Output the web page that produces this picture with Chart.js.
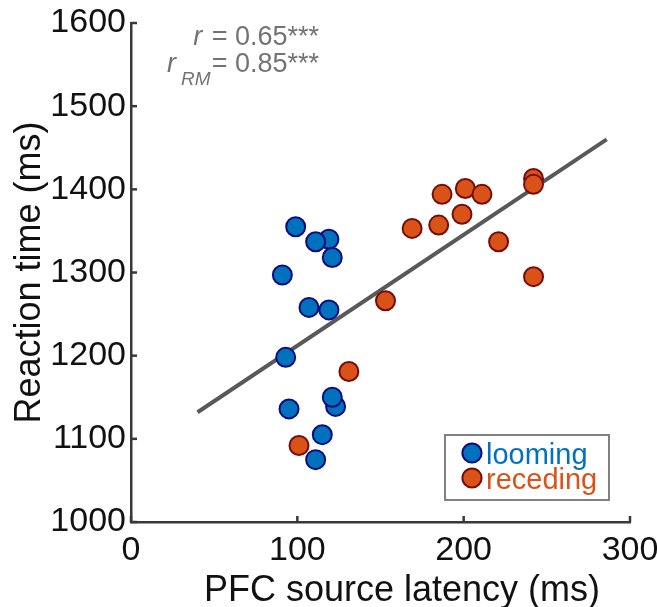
<!DOCTYPE html>
<html>
<head>
<meta charset="utf-8">
<script src="https://cdn.jsdelivr.net/npm/chart.js@4.4.0/dist/chart.umd.min.js"></script>
<style>
  html, body { margin: 0; padding: 0; background: #fff; }
  #wrap { width: 657px; height: 607px; }
</style>
</head>
<body>
<div id="wrap"><canvas id="chart" width="657" height="607"></canvas></div>
<script>
// ---- data ----
const loomingX = [99, 119, 111, 121, 91, 107, 119, 93, 123, 121, 95, 115, 111];
const loomingY = [1355, 1340, 1337, 1318, 1297, 1258, 1255, 1198, 1139, 1150, 1136, 1105, 1075];
const recedingX = [242, 242, 201, 211, 187, 199, 185, 169, 221, 242, 153, 131, 101];
const recedingY = [1413, 1406, 1401, 1394, 1394, 1370, 1357, 1353, 1337, 1295, 1266, 1181, 1092];
const fitX = [40, 286];
const fitY = [1132, 1460];
const xTicks = [0, 100, 200, 300];
const yTicks = [1000, 1100, 1200, 1300, 1400, 1500, 1600];
const seriesNames = ['looming', 'receding'];
const statLines = [['r', '', ' = 0.65***'], ['r', 'RM', '= 0.85***']];
const xTitle = 'PFC source latency (ms)';
const yTitle = 'Reaction time (ms)';

const FONT = '"Liberation Sans", Arial, sans-serif';
const axisColor = '#383838';
const blue = '#0072bd', blueEdge = '#0c0c7c';
const orange = '#d95319', orangeEdge = '#760d0d';

const toPts = (xs, ys) => xs.map((x, i) => ({ x, y: ys[i] }));

// inward tick marks, x title, stats text and the boxed legend
const extras = {
  id: 'extras',
  afterDraw(chart) {
    const ctx = chart.ctx;
    const xs = chart.scales.x, ys = chart.scales.y;
    ctx.save();
    ctx.strokeStyle = axisColor;
    ctx.lineWidth = 2.5;
    xTicks.forEach(v => {
      const px = xs.getPixelForValue(v);
      ctx.beginPath(); ctx.moveTo(px, ys.bottom); ctx.lineTo(px, ys.bottom - 6); ctx.stroke();
    });
    yTicks.forEach(v => {
      const py = ys.getPixelForValue(v);
      ctx.beginPath(); ctx.moveTo(xs.left, py); ctx.lineTo(xs.left + 6, py); ctx.stroke();
    });

    // x axis title (sits a little right of centre in the original)
    ctx.fillStyle = '#111';
    ctx.font = '36px ' + FONT;
    ctx.textAlign = 'center';
    ctx.textBaseline = 'alphabetic';
    ctx.fillText(xTitle, 402, 601);

    // r and r_RM
    ctx.fillStyle = '#737373';
    const rightEdge = 319;
    const bases = [45, 72];
    statLines.forEach((ln, i) => {
      ctx.font = '27px ' + FONT;
      ctx.textAlign = 'right';
      ctx.fillText(ln[2], rightEdge, bases[i]);
      let x = rightEdge - ctx.measureText(ln[2]).width;
      if (ln[1]) {
        ctx.font = 'italic 19px ' + FONT;
        ctx.fillText(ln[1], x - 1, bases[i] + 13);
        x -= ctx.measureText(ln[1]).width + 4;
      }
      ctx.font = 'italic 27px ' + FONT;
      ctx.fillText(ln[0], x - 2, bases[i]);
    });

    // legend
    ctx.strokeStyle = '#808080';
    ctx.lineWidth = 2;
    ctx.strokeRect(445, 435, 164, 65);
    const fills = [blue, orange], edges = [blueEdge, orangeEdge];
    const cy = [453, 478];
    seriesNames.forEach((name, i) => {
      ctx.beginPath();
      ctx.arc(472, cy[i], 9.6, 0, Math.PI * 2);
      ctx.fillStyle = fills[i]; ctx.fill();
      ctx.lineWidth = 2; ctx.strokeStyle = edges[i]; ctx.stroke();
      ctx.font = '29px ' + FONT;
      ctx.textAlign = 'left';
      ctx.textBaseline = 'alphabetic';
      ctx.fillStyle = fills[i];
      ctx.fillText(name, 486, cy[i] + 11);
    });
    ctx.restore();
  }
};

new Chart(document.getElementById('chart'), {
  type: 'scatter',
  data: {
    datasets: [
      {
        type: 'line',
        label: 'fit',
        data: toPts(fitX, fitY),
        borderColor: '#595959',
        borderWidth: 4,
        pointRadius: 0,
        fill: false,
        order: 3
      },
      {
        label: seriesNames[0],
        data: toPts(loomingX, loomingY),
        backgroundColor: blue,
        borderColor: blueEdge,
        borderWidth: 2,
        pointRadius: 9.5,
        order: 2
      },
      {
        label: seriesNames[1],
        data: toPts(recedingX, recedingY),
        backgroundColor: orange,
        borderColor: orangeEdge,
        borderWidth: 2,
        pointRadius: 9.5,
        order: 1
      }
    ]
  },
  options: {
    responsive: false,
    animation: false,
    events: [],
    layout: { padding: { top: 23, right: 27, left: 0, bottom: 0 } },
    plugins: { legend: { display: false }, tooltip: { enabled: false } },
    scales: {
      x: {
        type: 'linear',
        min: 0, max: 300,
        afterBuildTicks: s => { s.ticks = xTicks.map(v => ({ value: v })); },
        afterFit: s => { s.height = 85; s.paddingLeft = 0; s.paddingRight = 0; },
        grid: { display: false, drawTicks: false },
        border: { display: true, color: axisColor, width: 2.5 },
        ticks: { color: '#111', font: { family: FONT, size: 34 }, padding: 8, maxRotation: 0,
                 callback: v => String(v) },
        title: { display: false }
      },
      y: {
        type: 'linear',
        min: 1000, max: 1600,
        afterBuildTicks: s => { s.ticks = yTicks.map(v => ({ value: v })); },
        afterFit: s => { s.width = 131; s.paddingTop = 0; s.paddingBottom = 0; },
        grid: { display: false, drawTicks: false },
        border: { display: true, color: axisColor, width: 2.5 },
        ticks: { color: '#111', font: { family: FONT, size: 34 }, padding: 5,
                 callback: v => String(v) },
        title: { display: true, text: yTitle, color: '#111',
                 font: { family: FONT, size: 36 }, padding: { top: 8, bottom: 0 } }
      }
    }
  },
  plugins: [extras]
});
</script>
</body>
</html>
